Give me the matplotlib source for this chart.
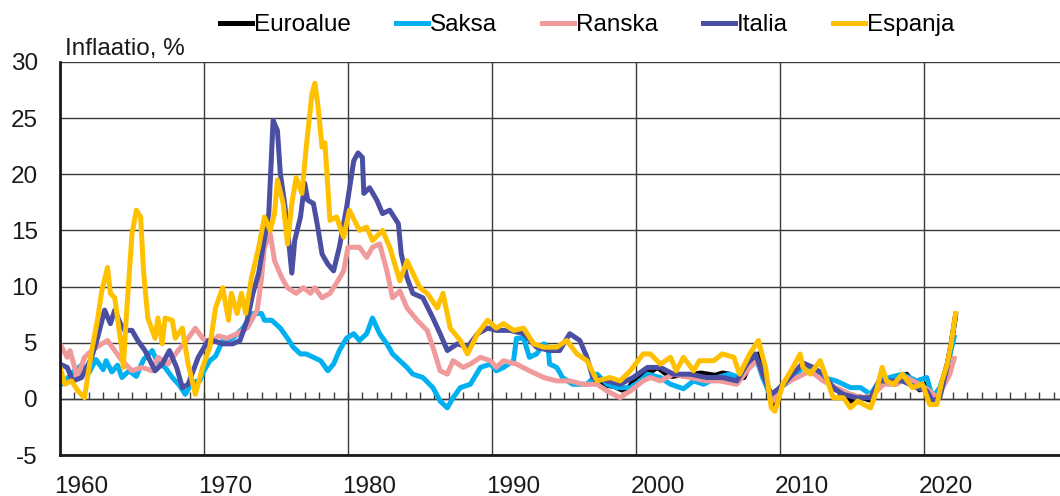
import matplotlib
matplotlib.use("Agg")
import matplotlib.pyplot as plt
from matplotlib.ticker import FixedLocator, NullFormatter, FixedFormatter

plt.rcParams['font.family'] = ['Liberation Sans', 'DejaVu Sans']

series_names = ["Euroalue", "Saksa", "Ranska", "Italia", "Espanja"]
series_colors = ["#000000", "#00B0F0", "#F09A9C", "#4A4FA3", "#FFC000"]

euro_years = [1997.0, 1997.5, 1998.0, 1998.5, 1999.0, 1999.5, 2000.0, 2000.5, 2001.0, 2001.5, 2002.0,
              2002.5, 2003.0, 2003.5, 2004.0, 2004.5, 2005.0, 2005.5, 2006.0, 2006.5, 2007.0, 2007.5,
              2007.9, 2008.5, 2009.0, 2009.5, 2010.0, 2010.5, 2011.0, 2011.8, 2012.5, 2013.0, 2013.9,
              2014.5, 2014.9, 2015.5, 2016.2, 2016.9, 2017.2, 2018.0, 2018.8, 2019.3, 2019.7, 2020.1,
              2020.6, 2020.9, 2021.2, 2021.6, 2021.9, 2022.2]
euro_values = [1.6, 1.5, 1.2, 1.1, 0.8, 1.0, 1.9, 2.3, 2.4, 2.8, 2.3,
               2.0, 2.1, 2.0, 2.2, 2.3, 2.2, 2.1, 2.3, 2.2, 1.8, 1.9,
               3.1, 4.0, 1.5, -0.5, 1.0, 1.6, 2.4, 3.0, 2.5, 1.8, 0.8,
               0.4, -0.2, 0.2, -0.1, 1.3, 1.9, 1.3, 2.2, 1.4, 0.8, 1.3,
               -0.3, -0.3, 1.3, 3.0, 4.9, 7.5]

saksa_years = [1960.0, 1960.5, 1961.0, 1961.5, 1962.0, 1962.5, 1963.0, 1963.2, 1963.6, 1964.0, 1964.3,
               1964.8, 1965.3, 1965.8, 1966.4, 1966.8, 1967.3, 1967.8, 1968.3, 1968.7, 1969.2, 1969.7,
               1970.0, 1970.4, 1970.8, 1971.3, 1972.0, 1972.7, 1973.4, 1974.0, 1974.2, 1974.7, 1975.3,
               1975.8, 1976.2, 1976.7, 1977.1, 1977.6, 1978.1, 1978.6, 1979.0, 1979.4, 1979.9, 1980.4,
               1980.8, 1981.3, 1981.7, 1982.2, 1982.7, 1983.1, 1983.6, 1984.1, 1984.5, 1985.2, 1985.9,
               1986.4, 1986.9, 1987.3, 1987.8, 1988.5, 1989.2, 1989.9, 1990.3, 1990.8, 1991.5, 1991.7,
               1992.2, 1992.6, 1993.1, 1993.6, 1993.9, 1994.0, 1994.5, 1994.9, 1995.6, 1996.6, 1997.3,
               1998.0, 1998.7, 1999.6, 2000.3, 2000.8, 2001.7, 2002.4, 2003.3, 2004.0, 2004.7, 2005.6,
               2006.5, 2007.2, 2007.9, 2008.4, 2008.8, 2009.4, 2010.0, 2010.7, 2011.6, 2012.3, 2013.0,
               2013.9, 2014.9, 2015.6, 2016.3, 2016.9, 2017.6, 2018.5, 2019.5, 2020.2, 2020.6, 2021.1,
               2021.6, 2022.1]
saksa_values = [1.2, 1.8, 2.5, 3.0, 2.3, 3.5, 2.6, 3.4, 2.4, 3.0, 1.9,
                2.5, 2.0, 3.5, 4.3, 3.2, 2.8, 1.9, 1.2, 0.4, 1.5, 1.6,
                2.5, 3.4, 3.8, 5.2, 5.4, 6.3, 7.6, 7.6, 7.0, 7.0, 6.3,
                5.4, 4.6, 4.0, 4.0, 3.7, 3.4, 2.5, 3.1, 4.3, 5.4, 5.8,
                5.2, 5.8, 7.2, 5.8, 4.9, 4.0, 3.4, 2.8, 2.2, 1.9, 1.0,
                -0.2, -0.8, 0.1, 1.0, 1.3, 2.8, 3.1, 2.5, 2.8, 3.4, 5.4,
                5.4, 3.7, 4.0, 4.9, 4.6, 3.1, 2.8, 1.9, 1.3, 1.3, 2.2,
                1.3, 1.0, 1.0, 1.6, 2.2, 1.9, 1.3, 0.9, 1.6, 1.3, 1.9,
                2.2, 1.9, 2.8, 3.4, 1.9, 0.1, 1.0, 1.6, 2.8, 2.5, 1.9,
                1.6, 1.0, 1.0, 0.4, 1.6, 1.9, 2.2, 1.6, 1.9, 0.1, 1.0,
                2.8, 5.5]

ranska_years = [1960.0, 1960.5, 1960.7, 1961.2, 1961.7, 1962.2, 1962.9, 1963.3, 1963.8, 1964.3, 1965.0,
                1965.7, 1966.4, 1966.8, 1967.5, 1968.2, 1968.9, 1969.4, 1969.9, 1970.4, 1971.0, 1971.6,
                1972.3, 1973.0, 1973.7, 1974.0, 1974.2, 1974.6, 1974.9, 1975.4, 1975.8, 1976.4, 1976.9,
                1977.4, 1977.7, 1978.2, 1978.75, 1979.2, 1979.7, 1980.0, 1980.4, 1980.8, 1981.3, 1981.7,
                1982.2, 1982.7, 1983.1, 1983.6, 1984.1, 1984.8, 1985.5, 1985.9, 1986.4, 1986.9, 1987.3,
                1988.0, 1988.5, 1989.2, 1989.9, 1990.3, 1990.8, 1991.7, 1992.6, 1993.6, 1994.5, 1995.4,
                1996.3, 1997.3, 1998.0, 1998.9, 1999.6, 2000.5, 2001.0, 2001.7, 2002.6, 2003.75, 2004.9,
                2005.8, 2007.0, 2007.9, 2008.4, 2009.1, 2009.5, 2010.2, 2011.2, 2012.1, 2013.0, 2013.9,
                2014.9, 2015.8, 2016.5, 2017.2, 2018.1, 2018.8, 2019.7, 2020.4, 2020.9, 2021.3, 2021.8,
                2022.1]
ranska_values = [4.9, 3.7, 4.3, 1.9, 3.7, 4.3, 4.9, 5.2, 4.3, 3.4, 2.5,
                 2.8, 2.5, 3.7, 3.1, 4.3, 5.4, 6.3, 5.4, 4.9, 5.6, 5.4,
                 5.8, 6.3, 7.9, 10.8, 13.5, 14.7, 12.3, 10.8, 9.9, 9.4, 9.9,
                 9.4, 9.9, 9.0, 9.4, 10.3, 11.4, 13.5, 13.5, 13.5, 12.6, 13.5,
                 13.8, 11.4, 9.0, 9.6, 8.1, 7.0, 6.1, 4.6, 2.5, 2.2, 3.4,
                 2.8, 3.1, 3.7, 3.4, 2.8, 3.4, 3.1, 2.5, 1.9, 1.6, 1.6,
                 1.3, 1.3, 0.7, 0.1, 0.7, 1.6, 1.9, 1.6, 2.2, 1.9, 1.6,
                 1.6, 1.3, 2.8, 3.4, 1.3, -0.2, 1.3, 1.9, 2.5, 1.6, 1.0,
                 0.4, 0.1, 0.4, 1.3, 1.3, 1.9, 1.3, 0.7, 0.1, 1.0, 2.2,
                 3.6]

italia_years = [1960.0, 1960.5, 1960.9, 1961.5, 1962.2, 1962.6, 1963.1, 1963.5, 1963.8, 1964.2, 1964.5,
                1965.0, 1965.4, 1965.9, 1966.6, 1967.1, 1967.6, 1968.1, 1968.5, 1968.9, 1969.6, 1970.3,
                1970.6, 1971.3, 1972.0, 1972.5, 1973.0, 1973.4, 1973.8, 1974.1, 1974.5, 1974.8, 1975.1,
                1975.3, 1975.6, 1975.9, 1976.1, 1976.3, 1976.7, 1977.0, 1977.2, 1977.6, 1977.9, 1978.2,
                1978.6, 1979.0, 1979.4, 1979.9, 1980.4, 1980.7, 1981.0, 1981.1, 1981.5, 1982.0, 1982.4,
                1982.9, 1983.5, 1983.7, 1984.1, 1984.5, 1985.2, 1985.9, 1986.4, 1986.9, 1987.6, 1988.3,
                1989.0, 1989.7, 1990.3, 1991.25, 1992.2, 1993.1, 1994.0, 1994.7, 1995.4, 1996.1, 1996.6,
                1997.0, 1998.0, 1998.9, 1999.8, 2000.8, 2001.7, 2002.6, 2003.75, 2004.9, 2006.0, 2007.0,
                2007.7, 2008.3, 2008.8, 2009.4, 2010.0, 2010.9, 2011.6, 2012.3, 2013.0, 2013.7, 2014.4,
                2015.3, 2016.3, 2016.9, 2017.6, 2018.5, 2019.5, 2020.2, 2020.6, 2021.1, 2021.6, 2022.15]
italia_values = [3.1, 2.8, 1.6, 1.9, 3.7, 5.4, 7.9, 6.7, 7.9, 6.7, 6.1,
                 6.1, 5.2, 4.3, 2.5, 3.1, 4.3, 2.8, 1.0, 1.3, 3.7, 5.2,
                 5.2, 4.9, 4.9, 5.2, 7.0, 9.4, 11.2, 13.5, 16.5, 24.8, 23.9,
                 20.1, 17.4, 13.8, 11.2, 14.1, 16.2, 19.2, 17.7, 17.4, 15.3, 12.9,
                 12.0, 11.4, 13.5, 17.0, 21.2, 21.9, 21.5, 18.3, 18.8, 17.7, 16.5,
                 16.8, 15.6, 12.9, 10.8, 9.4, 9.0, 7.2, 5.8, 4.3, 4.9, 4.6,
                 5.8, 6.3, 6.1, 6.1, 5.8, 4.6, 4.3, 4.3, 5.8, 5.2, 3.7,
                 1.9, 1.6, 1.3, 1.9, 2.8, 2.8, 2.2, 2.2, 1.9, 1.9, 1.6,
                 3.1, 4.0, 2.2, 0.4, 1.0, 2.2, 3.2, 2.8, 2.2, 1.0, 0.4,
                 0.1, 0.1, 1.6, 1.6, 1.6, 1.0, 0.7, -0.2, 0.1, 2.8, 7.0]

espanja_years = [1960.0, 1960.35, 1960.8, 1961.25, 1961.7, 1962.2, 1962.6, 1962.9, 1963.3, 1963.5, 1963.8,
                 1964.3, 1964.4, 1964.6, 1965.0, 1965.3, 1965.6, 1965.8, 1966.1, 1966.6, 1966.8, 1967.1,
                 1967.3, 1967.8, 1968.0, 1968.5, 1968.9, 1969.4, 1969.9, 1970.4, 1970.8, 1971.3, 1971.7,
                 1971.9, 1972.3, 1972.6, 1972.9, 1973.3, 1973.8, 1974.2, 1974.6, 1974.9, 1975.1, 1975.5,
                 1975.8, 1976.1, 1976.4, 1976.8, 1977.1, 1977.5, 1977.7, 1977.9, 1978.2, 1978.4, 1978.75,
                 1979.2, 1979.7, 1980.1, 1980.8, 1981.3, 1981.7, 1982.4, 1982.9, 1983.6, 1984.1, 1984.5,
                 1985.0, 1985.5, 1986.2, 1986.6, 1987.1, 1987.8, 1988.3, 1989.0, 1989.7, 1990.3, 1990.8,
                 1991.5, 1992.2, 1992.9, 1993.6, 1994.5, 1995.2, 1995.9, 1996.6, 1997.3, 1998.2, 1998.9,
                 1999.6, 2000.5, 2001.0, 2001.7, 2002.4, 2002.8, 2003.3, 2004.0, 2004.4, 2005.4, 2006.0,
                 2006.8, 2007.2, 2007.9, 2008.5, 2009.0, 2009.4, 2009.65, 2010.2, 2010.9, 2011.4, 2011.6,
                 2012.1, 2012.8, 2013.3, 2013.7, 2014.4, 2014.9, 2015.4, 2015.8, 2016.3, 2016.7, 2017.1,
                 2017.4, 2017.9, 2018.5, 2019.2, 2019.9, 2020.4, 2020.9, 2021.25, 2021.6, 2021.9, 2022.2]
espanja_values = [2.8, 1.3, 1.6, 0.7, 0.1, 4.3, 7.0, 9.6, 11.7, 9.4, 9.0,
                  4.3, 2.8, 7.2, 14.7, 16.8, 16.2, 11.4, 7.2, 5.4, 7.2, 4.9,
                  7.2, 7.0, 5.4, 6.3, 3.1, 0.4, 2.8, 4.6, 8.1, 9.9, 7.0,
                  9.4, 7.6, 9.4, 7.6, 10.8, 13.5, 16.2, 15.0, 16.5, 19.5, 17.4,
                  13.8, 17.4, 19.7, 18.3, 22.4, 27.2, 28.1, 26.3, 22.4, 22.8, 15.9,
                  16.2, 14.4, 16.8, 15.0, 15.3, 14.1, 15.0, 13.5, 10.5, 12.3, 11.2,
                  9.9, 9.4, 8.1, 9.4, 6.3, 5.2, 4.0, 5.8, 7.0, 6.3, 6.7,
                  6.1, 6.3, 4.9, 4.6, 4.6, 5.2, 4.0, 3.4, 1.6, 1.9, 1.6,
                  2.5, 4.0, 4.0, 3.1, 3.7, 2.5, 3.7, 2.5, 3.4, 3.4, 4.0,
                  3.7, 2.2, 4.0, 5.2, 2.8, -0.8, -1.1, 1.3, 2.8, 4.0, 2.8,
                  2.2, 3.4, 1.6, 0.1, 0.1, -0.8, -0.2, -0.5, -0.8, 0.7, 2.8,
                  1.6, 1.3, 2.2, 1.0, 1.3, -0.5, -0.5, 1.6, 3.0, 5.0, 7.6]

x_years = [euro_years, saksa_years, ranska_years, italia_years, espanja_years]
y_values = [euro_values, saksa_values, ranska_values, italia_values, espanja_values]

decades = [1960, 1970, 1980, 1990, 2000, 2010, 2020]
decade_labels = [str(d) for d in decades]
y_ticks = [-5, 0, 5, 10, 15, 20, 25, 30]

fig = plt.figure(figsize=(10.6, 4.96), dpi=100)
ax = fig.add_axes([60/1060, 41/496, 1000/1060, 393/496])

for xs, ys, name, col in zip(x_years, y_values, series_names, series_colors):
    ax.plot(xs, ys, color=col, lw=3.6, label=name, solid_joinstyle='round')

ax.set_xlim(1960, 2029.45)
ax.set_ylim(-5, 30)

# gridlines at decades, labels offset into each decade
ax.xaxis.set_major_locator(FixedLocator(decades))
ax.xaxis.set_major_formatter(NullFormatter())
ax.xaxis.set_minor_locator(FixedLocator([d + 1.5 for d in decades]))
ax.xaxis.set_minor_formatter(FixedFormatter(decade_labels))
ax.tick_params(axis='x', which='major', length=0)
ax.tick_params(axis='x', which='minor', length=0, pad=15, labelsize=17.5, labelcolor='#1a1a1a')

ax.set_yticks(y_ticks)
ax.set_yticklabels([str(v) for v in y_ticks])
ax.tick_params(axis='y', length=0, pad=16, labelsize=17.5, labelcolor='#1a1a1a')

ax.grid(True, which='major', color='#3a3a3a', lw=1.0)
ax.set_axisbelow(True)

for s in ['top', 'right']:
    ax.spines[s].set_visible(False)
ax.spines['left'].set_linewidth(2.0)
ax.spines['bottom'].set_linewidth(2.0)
ax.spines['left'].set_color('#1a1a1a')
ax.spines['bottom'].set_color('#1a1a1a')

# yearly tick marks along the zero line
sec = ax.secondary_xaxis(5/35)
sec.set_xticks(list(range(1961, 2030)))
sec.tick_params(direction='in', length=5, width=1, color='#3a3a3a', labelbottom=False)
sec.spines['bottom'].set_linewidth(1.0)
sec.spines['bottom'].set_color('#3a3a3a')

ax.text(0.005, 1.006, "Inflaatio, %", transform=ax.transAxes, fontsize=17.5,
        ha='left', va='bottom', color='#1a1a1a')

fig.legend(loc='center', bbox_to_anchor=(0.554, 1 - 25/496), ncol=5, frameon=False,
           fontsize=17.5, handlelength=1.3, handletextpad=0.1, columnspacing=1.85,
           borderaxespad=0)

fig.savefig("out.png", dpi=100)
